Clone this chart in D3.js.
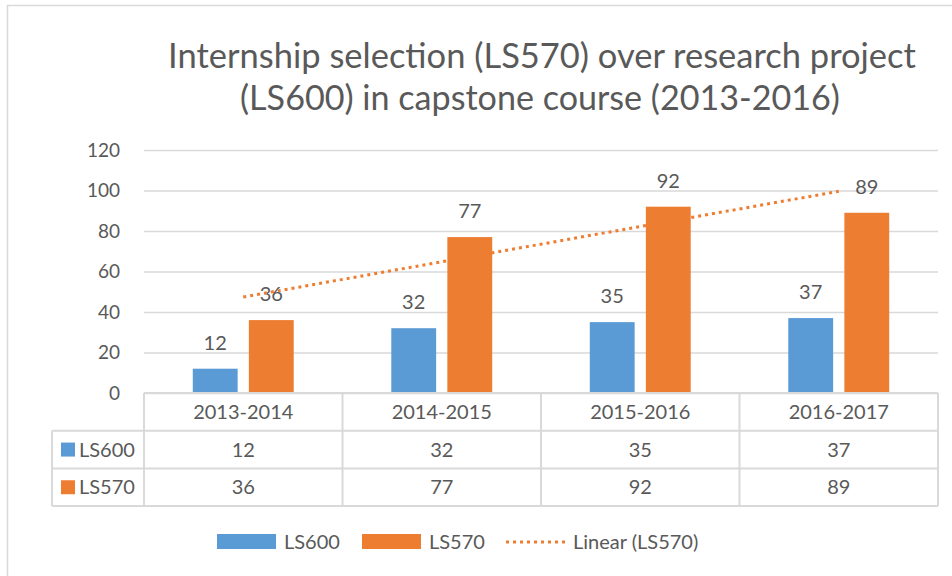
<!DOCTYPE html>
<html lang="en">
<head>
    <meta charset="UTF-8">
    <title>Internship selection</title>
    <style>
        body { margin: 0; background: #fff; }
        svg text { font-family: Lato, "Open Sans", sans-serif; fill: #595959; }
    </style>
</head>
<body>
    <svg id="chart"></svg>

    <script src="https://d3js.org/d3.v7.min.js"></script>
    <script>
        // Data
        const years = ["2013-2014", "2014-2015", "2015-2016", "2016-2017"];
        const seriesNames = ["LS600", "LS570"];
        const ls600 = [12, 32, 35, 37];
        const ls570 = [36, 77, 92, 89];
        const yTicks = [0, 20, 40, 60, 80, 100, 120];
        const titleLines = [
            "Internship selection (LS570) over research project",
            "(LS600) in capstone course (2013-2016)"
        ];
        const colors = { LS600: "#5B9BD5", LS570: "#ED7D31" };
        const values = { LS600: ls600, LS570: ls570 };

        // Layout
        const W = 952, H = 576;
        const plot = { left: 144, right: 938, top: 150, bottom: 393 };
        const rowH = 37.7;
        const grid = "#D9D9D9";

        const svg = d3.select("#chart").attr("width", W).attr("height", H);

        // chart border (cut off on the right / bottom like the screenshot)
        svg.append("rect")
            .attr("x", 7.5).attr("y", 5.5)
            .attr("width", W + 10).attr("height", H + 10)
            .attr("fill", "none").attr("stroke", grid).attr("stroke-width", 1.5);

        // Title, each line fitted to its width in the picture
        const titleSpec = [{ cx: 542, y: 68, w: 748 }, { cx: 540, y: 110, w: 600 }];
        titleLines.forEach((t, i) => {
            const el = svg.append("text")
                .attr("x", titleSpec[i].cx).attr("y", titleSpec[i].y)
                .attr("text-anchor", "middle")
                .style("font-size", "32px")
                .text(t);
            const len = el.node().getComputedTextLength();
            el.style("font-size", (32 * titleSpec[i].w / len) + "px");
        });

        // Scales
        const x0 = d3.scaleBand()
            .domain(years)
            .range([plot.left, plot.right]);

        const x1 = d3.scaleBand()
            .domain(seriesNames)
            .range([0, x0.bandwidth()])
            .paddingInner(0.2)
            .paddingOuter(0.87);

        const y = d3.scaleLinear()
            .domain([0, 120])
            .range([plot.bottom, plot.top]);

        // Gridlines + y labels
        const yAxis = svg.append("g")
            .attr("transform", "translate(" + plot.left + ",0)")
            .call(d3.axisLeft(y).tickValues(yTicks).tickSize(-(plot.right - plot.left)).tickPadding(24));
        yAxis.select(".domain").remove();
        yAxis.selectAll(".tick line").attr("stroke", grid).attr("stroke-width", 1.5);
        yAxis.selectAll(".tick text")
            .style("font-size", "19px")
            .attr("fill", "#595959");

        // Bars
        const groups = svg.selectAll("g.group")
            .data(years)
            .enter()
            .append("g")
            .attr("class", "group")
            .attr("transform", d => "translate(" + x0(d) + ",0)");

        groups.each(function (yr, i) {
            const g = d3.select(this);
            seriesNames.forEach(s => {
                const v = values[s][i];
                g.append("rect")
                    .attr("x", x1(s))
                    .attr("y", y(v))
                    .attr("width", x1.bandwidth())
                    .attr("height", y(0) - y(v))
                    .attr("fill", colors[s]);
            });
        });

        // Trendline (least squares on LS570)
        const xs = years.map((d, i) => i + 1);
        const mx = d3.mean(xs), my = d3.mean(ls570);
        const slope = d3.sum(xs, (v, i) => (v - mx) * (ls570[i] - my)) / d3.sum(xs, v => (v - mx) ** 2);
        const icpt = my - slope * mx;
        const trend = years.map((d, i) => ({ year: d, v: icpt + slope * xs[i] }));
        const line = d3.line()
            .x(d => x0(d.year) + x0.bandwidth() / 2)
            .y(d => y(d.v));
        svg.append("path")
            .datum(trend)
            .attr("d", line)
            .attr("fill", "none")
            .attr("stroke", colors.LS570)
            .attr("stroke-width", 3)
            .attr("stroke-dasharray", "3,4");

        // Data labels
        groups.each(function (yr, i) {
            const g = d3.select(this);
            seriesNames.forEach(s => {
                const v = values[s][i];
                g.append("text")
                    .attr("x", x1(s) + x1.bandwidth() / 2)
                    .attr("y", y(v) - 19)
                    .attr("text-anchor", "middle")
                    .style("font-size", "20px")
                    .text(v);
            });
        });

        // Data table
        const table = svg.append("g");
        const tLeft = 52;
        const rows = [plot.bottom, plot.bottom + rowH, plot.bottom + 2 * rowH, plot.bottom + 3 * rowH];
        // horizontal lines
        table.append("line")
            .attr("x1", plot.left).attr("x2", plot.right)
            .attr("y1", rows[0]).attr("y2", rows[0]);
        rows.slice(1).forEach(r => {
            table.append("line")
                .attr("x1", tLeft).attr("x2", plot.right)
                .attr("y1", r).attr("y2", r);
        });
        // vertical lines
        years.forEach(yr => {
            table.append("line")
                .attr("x1", x0(yr)).attr("x2", x0(yr))
                .attr("y1", rows[0]).attr("y2", rows[3]);
        });
        table.append("line")
            .attr("x1", plot.right).attr("x2", plot.right)
            .attr("y1", rows[0]).attr("y2", rows[3]);
        table.append("line")
            .attr("x1", tLeft).attr("x2", tLeft)
            .attr("y1", rows[1]).attr("y2", rows[3]);
        table.selectAll("line").attr("stroke", grid).attr("stroke-width", 2);

        // category row
        years.forEach(yr => {
            table.append("text")
                .attr("x", x0(yr) + x0.bandwidth() / 2)
                .attr("y", rows[0] + rowH / 2 + 7)
                .attr("text-anchor", "middle")
                .style("font-size", "20px")
                .text(yr);
        });
        // series rows
        seriesNames.forEach((s, si) => {
            const top = rows[si + 1];
            table.append("rect")
                .attr("x", 61).attr("y", top + rowH / 2 - 7)
                .attr("width", 14).attr("height", 14)
                .attr("fill", colors[s]);
            table.append("text")
                .attr("x", 79).attr("y", top + rowH / 2 + 7)
                .style("font-size", "20px")
                .text(s);
            years.forEach((yr, i) => {
                table.append("text")
                    .attr("x", x0(yr) + x0.bandwidth() / 2)
                    .attr("y", top + rowH / 2 + 7)
                    .attr("text-anchor", "middle")
                    .style("font-size", "20px")
                    .text(values[s][i]);
            });
        });

        // Legend
        const legend = svg.append("g").attr("transform", "translate(0,542)");
        const legendItems = [
            { name: "LS600", x: 217, type: "bar" },
            { name: "LS570", x: 362, type: "bar" },
            { name: "Linear (LS570)", x: 506, type: "line" }
        ];
        legendItems.forEach(d => {
            if (d.type === "bar") {
                legend.append("rect")
                    .attr("x", d.x).attr("y", -8)
                    .attr("width", 59).attr("height", 15)
                    .attr("fill", d.name === "LS600" ? colors.LS600 : colors.LS570);
            } else {
                legend.append("line")
                    .attr("x1", d.x).attr("x2", d.x + 59)
                    .attr("y1", 0).attr("y2", 0)
                    .attr("stroke", colors.LS570)
                    .attr("stroke-width", 3)
                    .attr("stroke-dasharray", "3,4");
            }
            legend.append("text")
                .attr("x", d.x + 67).attr("y", 7)
                .style("font-size", "20px")
                .text(d.name);
        });
    </script>
</body>
</html>
